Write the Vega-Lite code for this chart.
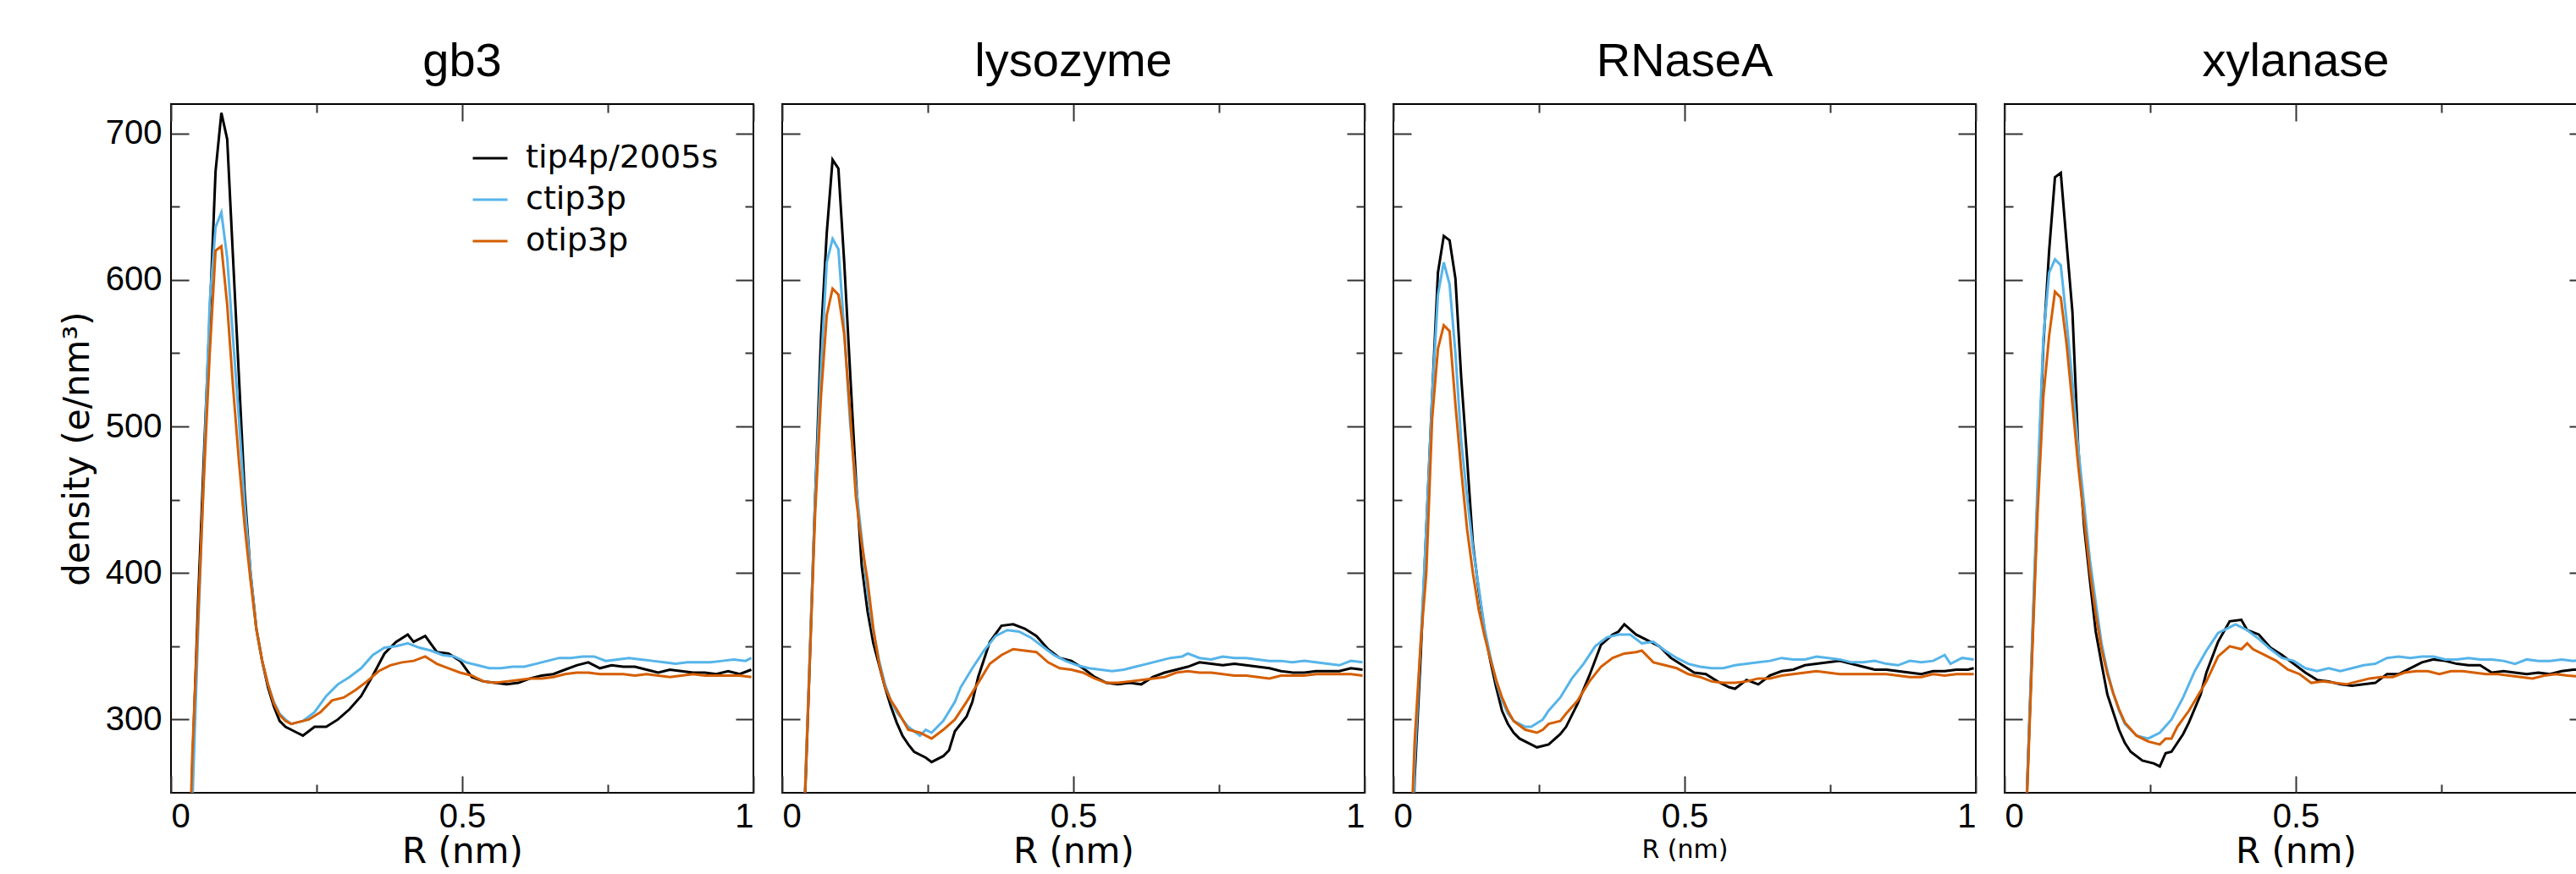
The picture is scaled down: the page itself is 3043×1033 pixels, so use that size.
{
"$schema": "https://vega.github.io/schema/vega-lite/v6.json",
"background": "white",
"padding": {"left": 69, "top": 44, "right": 0, "bottom": 0},
"bounds": "flush",
"spacing": 34,
"config": {
  "view": {"stroke": "black", "strokeWidth": 2},
  "axis": {"grid": false, "domain": false, "tickColor": "#333333", "tickWidth": 2, "labelFont": "Liberation Sans", "labelFontSize": 40, "labelColor": "black", "titleColor": "black", "titleFontWeight": "normal"},
  "title": {"font": "Liberation Sans", "fontSize": 56, "fontWeight": "normal", "color": "black", "anchor": "middle", "offset": 20},
  "line": {"strokeWidth": 3, "clip": true}
},
"datasets": {
"gb3": [
{"s":"tip4p/2005s","R":0.0265,"d":120},{"s":"tip4p/2005s","R":0.0365,"d":265},{"s":"tip4p/2005s","R":0.0465,"d":380},{"s":"tip4p/2005s","R":0.0565,"d":480},{"s":"tip4p/2005s","R":0.0665,"d":575},{"s":"tip4p/2005s","R":0.0765,"d":674},{"s":"tip4p/2005s","R":0.0865,"d":714},{"s":"tip4p/2005s","R":0.0965,"d":696},{"s":"tip4p/2005s","R":0.1065,"d":615},{"s":"tip4p/2005s","R":0.1165,"d":535},{"s":"tip4p/2005s","R":0.1265,"d":455},{"s":"tip4p/2005s","R":0.1365,"d":400},{"s":"tip4p/2005s","R":0.1465,"d":362},{"s":"tip4p/2005s","R":0.1565,"d":340},{"s":"tip4p/2005s","R":0.1665,"d":322},{"s":"tip4p/2005s","R":0.1765,"d":309},{"s":"tip4p/2005s","R":0.1865,"d":299},{"s":"tip4p/2005s","R":0.1965,"d":295},{"s":"tip4p/2005s","R":0.2065,"d":293},{"s":"tip4p/2005s","R":0.2165,"d":291},{"s":"tip4p/2005s","R":0.2265,"d":289},{"s":"tip4p/2005s","R":0.2365,"d":292},{"s":"tip4p/2005s","R":0.2465,"d":295},{"s":"tip4p/2005s","R":0.2665,"d":295},{"s":"tip4p/2005s","R":0.2865,"d":300},{"s":"tip4p/2005s","R":0.3065,"d":307},{"s":"tip4p/2005s","R":0.3265,"d":316},{"s":"tip4p/2005s","R":0.3465,"d":330},{"s":"tip4p/2005s","R":0.3665,"d":345},{"s":"tip4p/2005s","R":0.3865,"d":353},{"s":"tip4p/2005s","R":0.4065,"d":358},{"s":"tip4p/2005s","R":0.4165,"d":353},{"s":"tip4p/2005s","R":0.4365,"d":357},{"s":"tip4p/2005s","R":0.4565,"d":346},{"s":"tip4p/2005s","R":0.4765,"d":345},{"s":"tip4p/2005s","R":0.4965,"d":340},{"s":"tip4p/2005s","R":0.5165,"d":329},{"s":"tip4p/2005s","R":0.5365,"d":326},{"s":"tip4p/2005s","R":0.5565,"d":325},{"s":"tip4p/2005s","R":0.5765,"d":324},{"s":"tip4p/2005s","R":0.5965,"d":325},{"s":"tip4p/2005s","R":0.6165,"d":328},{"s":"tip4p/2005s","R":0.6365,"d":330},{"s":"tip4p/2005s","R":0.6565,"d":331},{"s":"tip4p/2005s","R":0.6765,"d":334},{"s":"tip4p/2005s","R":0.6965,"d":337},{"s":"tip4p/2005s","R":0.7165,"d":339},{"s":"tip4p/2005s","R":0.7365,"d":335},{"s":"tip4p/2005s","R":0.7565,"d":337},{"s":"tip4p/2005s","R":0.7765,"d":336},{"s":"tip4p/2005s","R":0.7965,"d":336},{"s":"tip4p/2005s","R":0.8165,"d":334},{"s":"tip4p/2005s","R":0.8365,"d":332},{"s":"tip4p/2005s","R":0.8565,"d":334},{"s":"tip4p/2005s","R":0.8765,"d":333},{"s":"tip4p/2005s","R":0.8965,"d":332},{"s":"tip4p/2005s","R":0.9165,"d":332},{"s":"tip4p/2005s","R":0.9365,"d":331},{"s":"tip4p/2005s","R":0.9565,"d":333},{"s":"tip4p/2005s","R":0.9765,"d":331},{"s":"tip4p/2005s","R":0.9965,"d":334},
{"s":"ctip3p","R":0.0265,"d":100},{"s":"ctip3p","R":0.0365,"d":240},{"s":"ctip3p","R":0.0465,"d":360},{"s":"ctip3p","R":0.0565,"d":470},{"s":"ctip3p","R":0.0665,"d":585},{"s":"ctip3p","R":0.0765,"d":636},{"s":"ctip3p","R":0.0865,"d":646},{"s":"ctip3p","R":0.0965,"d":615},{"s":"ctip3p","R":0.1065,"d":560},{"s":"ctip3p","R":0.1165,"d":506},{"s":"ctip3p","R":0.1265,"d":447},{"s":"ctip3p","R":0.1365,"d":400},{"s":"ctip3p","R":0.1465,"d":362},{"s":"ctip3p","R":0.1565,"d":340},{"s":"ctip3p","R":0.1665,"d":324},{"s":"ctip3p","R":0.1765,"d":312},{"s":"ctip3p","R":0.1865,"d":304},{"s":"ctip3p","R":0.1965,"d":300},{"s":"ctip3p","R":0.2065,"d":297},{"s":"ctip3p","R":0.2165,"d":298},{"s":"ctip3p","R":0.2265,"d":299},{"s":"ctip3p","R":0.2465,"d":305},{"s":"ctip3p","R":0.2665,"d":316},{"s":"ctip3p","R":0.2865,"d":324},{"s":"ctip3p","R":0.3065,"d":329},{"s":"ctip3p","R":0.3265,"d":335},{"s":"ctip3p","R":0.3465,"d":344},{"s":"ctip3p","R":0.3665,"d":349},{"s":"ctip3p","R":0.3865,"d":350},{"s":"ctip3p","R":0.4065,"d":352},{"s":"ctip3p","R":0.4265,"d":349},{"s":"ctip3p","R":0.4465,"d":347},{"s":"ctip3p","R":0.4665,"d":344},{"s":"ctip3p","R":0.4865,"d":343},{"s":"ctip3p","R":0.5065,"d":339},{"s":"ctip3p","R":0.5265,"d":337},{"s":"ctip3p","R":0.5465,"d":335},{"s":"ctip3p","R":0.5665,"d":335},{"s":"ctip3p","R":0.5865,"d":336},{"s":"ctip3p","R":0.6065,"d":336},{"s":"ctip3p","R":0.6265,"d":338},{"s":"ctip3p","R":0.6465,"d":340},{"s":"ctip3p","R":0.6665,"d":342},{"s":"ctip3p","R":0.6865,"d":342},{"s":"ctip3p","R":0.7065,"d":343},{"s":"ctip3p","R":0.7265,"d":343},{"s":"ctip3p","R":0.7465,"d":340},{"s":"ctip3p","R":0.7665,"d":341},{"s":"ctip3p","R":0.7865,"d":342},{"s":"ctip3p","R":0.8065,"d":341},{"s":"ctip3p","R":0.8265,"d":340},{"s":"ctip3p","R":0.8465,"d":339},{"s":"ctip3p","R":0.8665,"d":338},{"s":"ctip3p","R":0.8865,"d":339},{"s":"ctip3p","R":0.9065,"d":339},{"s":"ctip3p","R":0.9265,"d":339},{"s":"ctip3p","R":0.9465,"d":340},{"s":"ctip3p","R":0.9665,"d":341},{"s":"ctip3p","R":0.9865,"d":340},{"s":"ctip3p","R":0.9965,"d":342},
{"s":"otip3p","R":0.0265,"d":130},{"s":"otip3p","R":0.0365,"d":275},{"s":"otip3p","R":0.0465,"d":370},{"s":"otip3p","R":0.0565,"d":465},{"s":"otip3p","R":0.0665,"d":550},{"s":"otip3p","R":0.0765,"d":620},{"s":"otip3p","R":0.0865,"d":623},{"s":"otip3p","R":0.0965,"d":583},{"s":"otip3p","R":0.1065,"d":527},{"s":"otip3p","R":0.1165,"d":477},{"s":"otip3p","R":0.1265,"d":432},{"s":"otip3p","R":0.1365,"d":395},{"s":"otip3p","R":0.1465,"d":362},{"s":"otip3p","R":0.1565,"d":340},{"s":"otip3p","R":0.1665,"d":324},{"s":"otip3p","R":0.1765,"d":311},{"s":"otip3p","R":0.1865,"d":303},{"s":"otip3p","R":0.1965,"d":299},{"s":"otip3p","R":0.2065,"d":297},{"s":"otip3p","R":0.2165,"d":298},{"s":"otip3p","R":0.2365,"d":300},{"s":"otip3p","R":0.2565,"d":305},{"s":"otip3p","R":0.2765,"d":313},{"s":"otip3p","R":0.2965,"d":315},{"s":"otip3p","R":0.3165,"d":320},{"s":"otip3p","R":0.3365,"d":326},{"s":"otip3p","R":0.3565,"d":333},{"s":"otip3p","R":0.3765,"d":337},{"s":"otip3p","R":0.3965,"d":339},{"s":"otip3p","R":0.4165,"d":340},{"s":"otip3p","R":0.4365,"d":343},{"s":"otip3p","R":0.4565,"d":338},{"s":"otip3p","R":0.4765,"d":335},{"s":"otip3p","R":0.4965,"d":332},{"s":"otip3p","R":0.5165,"d":330},{"s":"otip3p","R":0.5365,"d":326},{"s":"otip3p","R":0.5565,"d":325},{"s":"otip3p","R":0.5765,"d":326},{"s":"otip3p","R":0.5965,"d":327},{"s":"otip3p","R":0.6165,"d":328},{"s":"otip3p","R":0.6365,"d":328},{"s":"otip3p","R":0.6565,"d":329},{"s":"otip3p","R":0.6765,"d":331},{"s":"otip3p","R":0.6965,"d":332},{"s":"otip3p","R":0.7165,"d":332},{"s":"otip3p","R":0.7365,"d":331},{"s":"otip3p","R":0.7565,"d":331},{"s":"otip3p","R":0.7765,"d":331},{"s":"otip3p","R":0.7965,"d":330},{"s":"otip3p","R":0.8165,"d":331},{"s":"otip3p","R":0.8365,"d":330},{"s":"otip3p","R":0.8565,"d":329},{"s":"otip3p","R":0.8765,"d":330},{"s":"otip3p","R":0.8965,"d":331},{"s":"otip3p","R":0.9165,"d":330},{"s":"otip3p","R":0.9365,"d":330},{"s":"otip3p","R":0.9565,"d":330},{"s":"otip3p","R":0.9765,"d":330},{"s":"otip3p","R":0.9965,"d":329}
],
"lys": [
{"s":"tip4p/2005s","R":0.0265,"d":100},{"s":"tip4p/2005s","R":0.0365,"d":215},{"s":"tip4p/2005s","R":0.0465,"d":330},{"s":"tip4p/2005s","R":0.0565,"d":450},{"s":"tip4p/2005s","R":0.0665,"d":560},{"s":"tip4p/2005s","R":0.0765,"d":632},{"s":"tip4p/2005s","R":0.0865,"d":682},{"s":"tip4p/2005s","R":0.0965,"d":676},{"s":"tip4p/2005s","R":0.1065,"d":612},{"s":"tip4p/2005s","R":0.1165,"d":538},{"s":"tip4p/2005s","R":0.1265,"d":465},{"s":"tip4p/2005s","R":0.1365,"d":405},{"s":"tip4p/2005s","R":0.1465,"d":374},{"s":"tip4p/2005s","R":0.1565,"d":352},{"s":"tip4p/2005s","R":0.1665,"d":337},{"s":"tip4p/2005s","R":0.1765,"d":322},{"s":"tip4p/2005s","R":0.1865,"d":309},{"s":"tip4p/2005s","R":0.1965,"d":298},{"s":"tip4p/2005s","R":0.2065,"d":289},{"s":"tip4p/2005s","R":0.2165,"d":283},{"s":"tip4p/2005s","R":0.2265,"d":278},{"s":"tip4p/2005s","R":0.2465,"d":274},{"s":"tip4p/2005s","R":0.2565,"d":271},{"s":"tip4p/2005s","R":0.2765,"d":275},{"s":"tip4p/2005s","R":0.2865,"d":279},{"s":"tip4p/2005s","R":0.2965,"d":292},{"s":"tip4p/2005s","R":0.3165,"d":302},{"s":"tip4p/2005s","R":0.3265,"d":312},{"s":"tip4p/2005s","R":0.3365,"d":329},{"s":"tip4p/2005s","R":0.3565,"d":353},{"s":"tip4p/2005s","R":0.3765,"d":364},{"s":"tip4p/2005s","R":0.3965,"d":365},{"s":"tip4p/2005s","R":0.4165,"d":362},{"s":"tip4p/2005s","R":0.4365,"d":357},{"s":"tip4p/2005s","R":0.4565,"d":348},{"s":"tip4p/2005s","R":0.4765,"d":342},{"s":"tip4p/2005s","R":0.4965,"d":340},{"s":"tip4p/2005s","R":0.5165,"d":335},{"s":"tip4p/2005s","R":0.5365,"d":329},{"s":"tip4p/2005s","R":0.5565,"d":325},{"s":"tip4p/2005s","R":0.5765,"d":324},{"s":"tip4p/2005s","R":0.5965,"d":325},{"s":"tip4p/2005s","R":0.6165,"d":324},{"s":"tip4p/2005s","R":0.6365,"d":329},{"s":"tip4p/2005s","R":0.6565,"d":332},{"s":"tip4p/2005s","R":0.6765,"d":334},{"s":"tip4p/2005s","R":0.6965,"d":336},{"s":"tip4p/2005s","R":0.7165,"d":339},{"s":"tip4p/2005s","R":0.7365,"d":338},{"s":"tip4p/2005s","R":0.7565,"d":337},{"s":"tip4p/2005s","R":0.7765,"d":338},{"s":"tip4p/2005s","R":0.7965,"d":337},{"s":"tip4p/2005s","R":0.8165,"d":336},{"s":"tip4p/2005s","R":0.8365,"d":335},{"s":"tip4p/2005s","R":0.8565,"d":333},{"s":"tip4p/2005s","R":0.8765,"d":332},{"s":"tip4p/2005s","R":0.8965,"d":332},{"s":"tip4p/2005s","R":0.9165,"d":333},{"s":"tip4p/2005s","R":0.9365,"d":333},{"s":"tip4p/2005s","R":0.9565,"d":333},{"s":"tip4p/2005s","R":0.9765,"d":335},{"s":"tip4p/2005s","R":0.9965,"d":334},
{"s":"ctip3p","R":0.0265,"d":105},{"s":"ctip3p","R":0.0365,"d":220},{"s":"ctip3p","R":0.0465,"d":335},{"s":"ctip3p","R":0.0565,"d":450},{"s":"ctip3p","R":0.0665,"d":540},{"s":"ctip3p","R":0.0765,"d":612},{"s":"ctip3p","R":0.0865,"d":628},{"s":"ctip3p","R":0.0965,"d":621},{"s":"ctip3p","R":0.1065,"d":566},{"s":"ctip3p","R":0.1165,"d":503},{"s":"ctip3p","R":0.1265,"d":460},{"s":"ctip3p","R":0.1365,"d":424},{"s":"ctip3p","R":0.1465,"d":386},{"s":"ctip3p","R":0.1565,"d":360},{"s":"ctip3p","R":0.1665,"d":340},{"s":"ctip3p","R":0.1765,"d":324},{"s":"ctip3p","R":0.1865,"d":313},{"s":"ctip3p","R":0.1965,"d":305},{"s":"ctip3p","R":0.2065,"d":300},{"s":"ctip3p","R":0.2165,"d":295},{"s":"ctip3p","R":0.2365,"d":289},{"s":"ctip3p","R":0.2465,"d":293},{"s":"ctip3p","R":0.2565,"d":291},{"s":"ctip3p","R":0.2765,"d":299},{"s":"ctip3p","R":0.2965,"d":312},{"s":"ctip3p","R":0.3065,"d":322},{"s":"ctip3p","R":0.3265,"d":335},{"s":"ctip3p","R":0.3465,"d":347},{"s":"ctip3p","R":0.3665,"d":357},{"s":"ctip3p","R":0.3865,"d":361},{"s":"ctip3p","R":0.4065,"d":360},{"s":"ctip3p","R":0.4265,"d":356},{"s":"ctip3p","R":0.4465,"d":350},{"s":"ctip3p","R":0.4665,"d":344},{"s":"ctip3p","R":0.4865,"d":340},{"s":"ctip3p","R":0.5065,"d":337},{"s":"ctip3p","R":0.5265,"d":335},{"s":"ctip3p","R":0.5465,"d":334},{"s":"ctip3p","R":0.5665,"d":333},{"s":"ctip3p","R":0.5865,"d":334},{"s":"ctip3p","R":0.6065,"d":336},{"s":"ctip3p","R":0.6265,"d":338},{"s":"ctip3p","R":0.6465,"d":340},{"s":"ctip3p","R":0.6665,"d":342},{"s":"ctip3p","R":0.6865,"d":343},{"s":"ctip3p","R":0.6965,"d":345},{"s":"ctip3p","R":0.7165,"d":342},{"s":"ctip3p","R":0.7365,"d":341},{"s":"ctip3p","R":0.7565,"d":343},{"s":"ctip3p","R":0.7765,"d":342},{"s":"ctip3p","R":0.7965,"d":342},{"s":"ctip3p","R":0.8165,"d":341},{"s":"ctip3p","R":0.8365,"d":340},{"s":"ctip3p","R":0.8565,"d":340},{"s":"ctip3p","R":0.8765,"d":339},{"s":"ctip3p","R":0.8965,"d":340},{"s":"ctip3p","R":0.9165,"d":339},{"s":"ctip3p","R":0.9365,"d":338},{"s":"ctip3p","R":0.9565,"d":337},{"s":"ctip3p","R":0.9765,"d":340},{"s":"ctip3p","R":0.9965,"d":339},
{"s":"otip3p","R":0.0265,"d":110},{"s":"otip3p","R":0.0365,"d":220},{"s":"otip3p","R":0.0465,"d":330},{"s":"otip3p","R":0.0565,"d":440},{"s":"otip3p","R":0.0665,"d":520},{"s":"otip3p","R":0.0765,"d":576},{"s":"otip3p","R":0.0865,"d":594},{"s":"otip3p","R":0.0965,"d":590},{"s":"otip3p","R":0.1065,"d":563},{"s":"otip3p","R":0.1165,"d":510},{"s":"otip3p","R":0.1265,"d":452},{"s":"otip3p","R":0.1365,"d":420},{"s":"otip3p","R":0.1465,"d":395},{"s":"otip3p","R":0.1565,"d":362},{"s":"otip3p","R":0.1665,"d":338},{"s":"otip3p","R":0.1765,"d":322},{"s":"otip3p","R":0.1865,"d":313},{"s":"otip3p","R":0.1965,"d":307},{"s":"otip3p","R":0.2165,"d":293},{"s":"otip3p","R":0.2365,"d":291},{"s":"otip3p","R":0.2565,"d":287},{"s":"otip3p","R":0.2765,"d":293},{"s":"otip3p","R":0.2965,"d":300},{"s":"otip3p","R":0.3165,"d":312},{"s":"otip3p","R":0.3365,"d":325},{"s":"otip3p","R":0.3565,"d":338},{"s":"otip3p","R":0.3765,"d":344},{"s":"otip3p","R":0.3965,"d":348},{"s":"otip3p","R":0.4165,"d":347},{"s":"otip3p","R":0.4365,"d":346},{"s":"otip3p","R":0.4565,"d":339},{"s":"otip3p","R":0.4765,"d":335},{"s":"otip3p","R":0.4965,"d":334},{"s":"otip3p","R":0.5165,"d":332},{"s":"otip3p","R":0.5365,"d":328},{"s":"otip3p","R":0.5565,"d":325},{"s":"otip3p","R":0.5765,"d":325},{"s":"otip3p","R":0.5965,"d":326},{"s":"otip3p","R":0.6165,"d":327},{"s":"otip3p","R":0.6365,"d":328},{"s":"otip3p","R":0.6565,"d":329},{"s":"otip3p","R":0.6765,"d":332},{"s":"otip3p","R":0.6965,"d":333},{"s":"otip3p","R":0.7165,"d":332},{"s":"otip3p","R":0.7365,"d":332},{"s":"otip3p","R":0.7565,"d":331},{"s":"otip3p","R":0.7765,"d":330},{"s":"otip3p","R":0.7965,"d":330},{"s":"otip3p","R":0.8165,"d":329},{"s":"otip3p","R":0.8365,"d":328},{"s":"otip3p","R":0.8565,"d":330},{"s":"otip3p","R":0.8765,"d":330},{"s":"otip3p","R":0.8965,"d":330},{"s":"otip3p","R":0.9165,"d":331},{"s":"otip3p","R":0.9365,"d":331},{"s":"otip3p","R":0.9565,"d":331},{"s":"otip3p","R":0.9765,"d":331},{"s":"otip3p","R":0.9965,"d":330}
],
"rna": [
{"s":"tip4p/2005s","R":0.0265,"d":120},{"s":"tip4p/2005s","R":0.0365,"d":260},{"s":"tip4p/2005s","R":0.0465,"d":340},{"s":"tip4p/2005s","R":0.0565,"d":430},{"s":"tip4p/2005s","R":0.0665,"d":520},{"s":"tip4p/2005s","R":0.0765,"d":605},{"s":"tip4p/2005s","R":0.0865,"d":630},{"s":"tip4p/2005s","R":0.0965,"d":627},{"s":"tip4p/2005s","R":0.1065,"d":601},{"s":"tip4p/2005s","R":0.1165,"d":533},{"s":"tip4p/2005s","R":0.1265,"d":478},{"s":"tip4p/2005s","R":0.1365,"d":420},{"s":"tip4p/2005s","R":0.1465,"d":388},{"s":"tip4p/2005s","R":0.1565,"d":361},{"s":"tip4p/2005s","R":0.1665,"d":340},{"s":"tip4p/2005s","R":0.1765,"d":322},{"s":"tip4p/2005s","R":0.1865,"d":306},{"s":"tip4p/2005s","R":0.1965,"d":297},{"s":"tip4p/2005s","R":0.2065,"d":291},{"s":"tip4p/2005s","R":0.2165,"d":287},{"s":"tip4p/2005s","R":0.2365,"d":283},{"s":"tip4p/2005s","R":0.2465,"d":281},{"s":"tip4p/2005s","R":0.2665,"d":283},{"s":"tip4p/2005s","R":0.2865,"d":290},{"s":"tip4p/2005s","R":0.2965,"d":295},{"s":"tip4p/2005s","R":0.3165,"d":311},{"s":"tip4p/2005s","R":0.3365,"d":330},{"s":"tip4p/2005s","R":0.3565,"d":351},{"s":"tip4p/2005s","R":0.3765,"d":358},{"s":"tip4p/2005s","R":0.3865,"d":360},{"s":"tip4p/2005s","R":0.3965,"d":365},{"s":"tip4p/2005s","R":0.4165,"d":358},{"s":"tip4p/2005s","R":0.4365,"d":354},{"s":"tip4p/2005s","R":0.4565,"d":350},{"s":"tip4p/2005s","R":0.4765,"d":342},{"s":"tip4p/2005s","R":0.4965,"d":337},{"s":"tip4p/2005s","R":0.5165,"d":332},{"s":"tip4p/2005s","R":0.5365,"d":331},{"s":"tip4p/2005s","R":0.5565,"d":326},{"s":"tip4p/2005s","R":0.5765,"d":322},{"s":"tip4p/2005s","R":0.5865,"d":321},{"s":"tip4p/2005s","R":0.6065,"d":327},{"s":"tip4p/2005s","R":0.6265,"d":324},{"s":"tip4p/2005s","R":0.6465,"d":330},{"s":"tip4p/2005s","R":0.6665,"d":333},{"s":"tip4p/2005s","R":0.6865,"d":334},{"s":"tip4p/2005s","R":0.7065,"d":337},{"s":"tip4p/2005s","R":0.7265,"d":338},{"s":"tip4p/2005s","R":0.7465,"d":339},{"s":"tip4p/2005s","R":0.7665,"d":340},{"s":"tip4p/2005s","R":0.7865,"d":338},{"s":"tip4p/2005s","R":0.8065,"d":336},{"s":"tip4p/2005s","R":0.8265,"d":334},{"s":"tip4p/2005s","R":0.8465,"d":334},{"s":"tip4p/2005s","R":0.8665,"d":333},{"s":"tip4p/2005s","R":0.8865,"d":332},{"s":"tip4p/2005s","R":0.9065,"d":331},{"s":"tip4p/2005s","R":0.9265,"d":333},{"s":"tip4p/2005s","R":0.9465,"d":333},{"s":"tip4p/2005s","R":0.9665,"d":334},{"s":"tip4p/2005s","R":0.9865,"d":334},{"s":"tip4p/2005s","R":0.9965,"d":335},
{"s":"ctip3p","R":0.0265,"d":110},{"s":"ctip3p","R":0.0365,"d":270},{"s":"ctip3p","R":0.0465,"d":350},{"s":"ctip3p","R":0.0565,"d":430},{"s":"ctip3p","R":0.0665,"d":520},{"s":"ctip3p","R":0.0765,"d":590},{"s":"ctip3p","R":0.0865,"d":612},{"s":"ctip3p","R":0.0965,"d":597},{"s":"ctip3p","R":0.1065,"d":550},{"s":"ctip3p","R":0.1165,"d":490},{"s":"ctip3p","R":0.1265,"d":452},{"s":"ctip3p","R":0.1365,"d":417},{"s":"ctip3p","R":0.1465,"d":390},{"s":"ctip3p","R":0.1565,"d":362},{"s":"ctip3p","R":0.1665,"d":343},{"s":"ctip3p","R":0.1765,"d":326},{"s":"ctip3p","R":0.1865,"d":313},{"s":"ctip3p","R":0.1965,"d":304},{"s":"ctip3p","R":0.2065,"d":299},{"s":"ctip3p","R":0.2265,"d":295},{"s":"ctip3p","R":0.2365,"d":295},{"s":"ctip3p","R":0.2565,"d":300},{"s":"ctip3p","R":0.2665,"d":306},{"s":"ctip3p","R":0.2865,"d":315},{"s":"ctip3p","R":0.3065,"d":328},{"s":"ctip3p","R":0.3265,"d":338},{"s":"ctip3p","R":0.3465,"d":350},{"s":"ctip3p","R":0.3665,"d":356},{"s":"ctip3p","R":0.3865,"d":358},{"s":"ctip3p","R":0.4065,"d":358},{"s":"ctip3p","R":0.4265,"d":352},{"s":"ctip3p","R":0.4465,"d":353},{"s":"ctip3p","R":0.4665,"d":347},{"s":"ctip3p","R":0.4865,"d":342},{"s":"ctip3p","R":0.5065,"d":338},{"s":"ctip3p","R":0.5265,"d":336},{"s":"ctip3p","R":0.5465,"d":335},{"s":"ctip3p","R":0.5665,"d":335},{"s":"ctip3p","R":0.5865,"d":337},{"s":"ctip3p","R":0.6065,"d":338},{"s":"ctip3p","R":0.6265,"d":339},{"s":"ctip3p","R":0.6465,"d":340},{"s":"ctip3p","R":0.6665,"d":342},{"s":"ctip3p","R":0.6865,"d":341},{"s":"ctip3p","R":0.7065,"d":341},{"s":"ctip3p","R":0.7265,"d":343},{"s":"ctip3p","R":0.7465,"d":342},{"s":"ctip3p","R":0.7665,"d":341},{"s":"ctip3p","R":0.7865,"d":339},{"s":"ctip3p","R":0.8065,"d":339},{"s":"ctip3p","R":0.8265,"d":340},{"s":"ctip3p","R":0.8465,"d":338},{"s":"ctip3p","R":0.8665,"d":337},{"s":"ctip3p","R":0.8865,"d":340},{"s":"ctip3p","R":0.9065,"d":339},{"s":"ctip3p","R":0.9265,"d":340},{"s":"ctip3p","R":0.9465,"d":344},{"s":"ctip3p","R":0.9565,"d":338},{"s":"ctip3p","R":0.9765,"d":342},{"s":"ctip3p","R":0.9965,"d":341},
{"s":"otip3p","R":0.0265,"d":180},{"s":"otip3p","R":0.0365,"d":285},{"s":"otip3p","R":0.0465,"d":350},{"s":"otip3p","R":0.0565,"d":400},{"s":"otip3p","R":0.0665,"d":505},{"s":"otip3p","R":0.0765,"d":553},{"s":"otip3p","R":0.0865,"d":569},{"s":"otip3p","R":0.0965,"d":565},{"s":"otip3p","R":0.1065,"d":515},{"s":"otip3p","R":0.1165,"d":470},{"s":"otip3p","R":0.1265,"d":430},{"s":"otip3p","R":0.1365,"d":400},{"s":"otip3p","R":0.1465,"d":375},{"s":"otip3p","R":0.1565,"d":357},{"s":"otip3p","R":0.1665,"d":341},{"s":"otip3p","R":0.1765,"d":327},{"s":"otip3p","R":0.1865,"d":315},{"s":"otip3p","R":0.1965,"d":306},{"s":"otip3p","R":0.2065,"d":299},{"s":"otip3p","R":0.2265,"d":293},{"s":"otip3p","R":0.2465,"d":291},{"s":"otip3p","R":0.2565,"d":293},{"s":"otip3p","R":0.2665,"d":297},{"s":"otip3p","R":0.2865,"d":299},{"s":"otip3p","R":0.2965,"d":304},{"s":"otip3p","R":0.3165,"d":313},{"s":"otip3p","R":0.3365,"d":326},{"s":"otip3p","R":0.3565,"d":336},{"s":"otip3p","R":0.3765,"d":342},{"s":"otip3p","R":0.3965,"d":345},{"s":"otip3p","R":0.4165,"d":346},{"s":"otip3p","R":0.4265,"d":347},{"s":"otip3p","R":0.4465,"d":339},{"s":"otip3p","R":0.4665,"d":337},{"s":"otip3p","R":0.4865,"d":335},{"s":"otip3p","R":0.5065,"d":331},{"s":"otip3p","R":0.5265,"d":329},{"s":"otip3p","R":0.5465,"d":326},{"s":"otip3p","R":0.5665,"d":325},{"s":"otip3p","R":0.5865,"d":325},{"s":"otip3p","R":0.6065,"d":326},{"s":"otip3p","R":0.6265,"d":328},{"s":"otip3p","R":0.6465,"d":328},{"s":"otip3p","R":0.6665,"d":330},{"s":"otip3p","R":0.6865,"d":331},{"s":"otip3p","R":0.7065,"d":332},{"s":"otip3p","R":0.7265,"d":333},{"s":"otip3p","R":0.7465,"d":332},{"s":"otip3p","R":0.7665,"d":331},{"s":"otip3p","R":0.7865,"d":331},{"s":"otip3p","R":0.8065,"d":331},{"s":"otip3p","R":0.8265,"d":331},{"s":"otip3p","R":0.8465,"d":331},{"s":"otip3p","R":0.8665,"d":330},{"s":"otip3p","R":0.8865,"d":329},{"s":"otip3p","R":0.9065,"d":329},{"s":"otip3p","R":0.9265,"d":331},{"s":"otip3p","R":0.9465,"d":330},{"s":"otip3p","R":0.9665,"d":331},{"s":"otip3p","R":0.9965,"d":331}
],
"xyl": [
{"s":"tip4p/2005s","R":0.0265,"d":100},{"s":"tip4p/2005s","R":0.0365,"d":230},{"s":"tip4p/2005s","R":0.0465,"d":340},{"s":"tip4p/2005s","R":0.0565,"d":450},{"s":"tip4p/2005s","R":0.0665,"d":555},{"s":"tip4p/2005s","R":0.0765,"d":620},{"s":"tip4p/2005s","R":0.0865,"d":670},{"s":"tip4p/2005s","R":0.0965,"d":673},{"s":"tip4p/2005s","R":0.1065,"d":625},{"s":"tip4p/2005s","R":0.1165,"d":578},{"s":"tip4p/2005s","R":0.1265,"d":485},{"s":"tip4p/2005s","R":0.1365,"d":432},{"s":"tip4p/2005s","R":0.1465,"d":395},{"s":"tip4p/2005s","R":0.1565,"d":360},{"s":"tip4p/2005s","R":0.1665,"d":338},{"s":"tip4p/2005s","R":0.1765,"d":317},{"s":"tip4p/2005s","R":0.1865,"d":305},{"s":"tip4p/2005s","R":0.1965,"d":293},{"s":"tip4p/2005s","R":0.2065,"d":284},{"s":"tip4p/2005s","R":0.2165,"d":278},{"s":"tip4p/2005s","R":0.2365,"d":272},{"s":"tip4p/2005s","R":0.2565,"d":270},{"s":"tip4p/2005s","R":0.2665,"d":268},{"s":"tip4p/2005s","R":0.2765,"d":277},{"s":"tip4p/2005s","R":0.2865,"d":278},{"s":"tip4p/2005s","R":0.3065,"d":290},{"s":"tip4p/2005s","R":0.3165,"d":298},{"s":"tip4p/2005s","R":0.3365,"d":317},{"s":"tip4p/2005s","R":0.3465,"d":332},{"s":"tip4p/2005s","R":0.3665,"d":353},{"s":"tip4p/2005s","R":0.3865,"d":367},{"s":"tip4p/2005s","R":0.4065,"d":368},{"s":"tip4p/2005s","R":0.4165,"d":361},{"s":"tip4p/2005s","R":0.4365,"d":358},{"s":"tip4p/2005s","R":0.4565,"d":349},{"s":"tip4p/2005s","R":0.4765,"d":344},{"s":"tip4p/2005s","R":0.4965,"d":338},{"s":"tip4p/2005s","R":0.5165,"d":332},{"s":"tip4p/2005s","R":0.5365,"d":327},{"s":"tip4p/2005s","R":0.5565,"d":326},{"s":"tip4p/2005s","R":0.5765,"d":324},{"s":"tip4p/2005s","R":0.5965,"d":323},{"s":"tip4p/2005s","R":0.6165,"d":324},{"s":"tip4p/2005s","R":0.6365,"d":325},{"s":"tip4p/2005s","R":0.6565,"d":331},{"s":"tip4p/2005s","R":0.6765,"d":331},{"s":"tip4p/2005s","R":0.6965,"d":335},{"s":"tip4p/2005s","R":0.7165,"d":339},{"s":"tip4p/2005s","R":0.7365,"d":341},{"s":"tip4p/2005s","R":0.7565,"d":340},{"s":"tip4p/2005s","R":0.7765,"d":338},{"s":"tip4p/2005s","R":0.7965,"d":337},{"s":"tip4p/2005s","R":0.8165,"d":337},{"s":"tip4p/2005s","R":0.8365,"d":332},{"s":"tip4p/2005s","R":0.8565,"d":333},{"s":"tip4p/2005s","R":0.8765,"d":332},{"s":"tip4p/2005s","R":0.8965,"d":331},{"s":"tip4p/2005s","R":0.9165,"d":332},{"s":"tip4p/2005s","R":0.9365,"d":331},{"s":"tip4p/2005s","R":0.9565,"d":333},{"s":"tip4p/2005s","R":0.9765,"d":334},{"s":"tip4p/2005s","R":0.9965,"d":334},
{"s":"ctip3p","R":0.0265,"d":100},{"s":"ctip3p","R":0.0365,"d":230},{"s":"ctip3p","R":0.0465,"d":345},{"s":"ctip3p","R":0.0565,"d":460},{"s":"ctip3p","R":0.0665,"d":560},{"s":"ctip3p","R":0.0765,"d":605},{"s":"ctip3p","R":0.0865,"d":614},{"s":"ctip3p","R":0.0965,"d":610},{"s":"ctip3p","R":0.1065,"d":572},{"s":"ctip3p","R":0.1165,"d":530},{"s":"ctip3p","R":0.1265,"d":485},{"s":"ctip3p","R":0.1365,"d":447},{"s":"ctip3p","R":0.1465,"d":409},{"s":"ctip3p","R":0.1565,"d":380},{"s":"ctip3p","R":0.1665,"d":352},{"s":"ctip3p","R":0.1765,"d":333},{"s":"ctip3p","R":0.1865,"d":318},{"s":"ctip3p","R":0.1965,"d":306},{"s":"ctip3p","R":0.2065,"d":297},{"s":"ctip3p","R":0.2265,"d":289},{"s":"ctip3p","R":0.2465,"d":287},{"s":"ctip3p","R":0.2665,"d":291},{"s":"ctip3p","R":0.2865,"d":300},{"s":"ctip3p","R":0.3065,"d":315},{"s":"ctip3p","R":0.3265,"d":333},{"s":"ctip3p","R":0.3465,"d":347},{"s":"ctip3p","R":0.3665,"d":359},{"s":"ctip3p","R":0.3865,"d":363},{"s":"ctip3p","R":0.3965,"d":365},{"s":"ctip3p","R":0.4165,"d":361},{"s":"ctip3p","R":0.4365,"d":355},{"s":"ctip3p","R":0.4565,"d":348},{"s":"ctip3p","R":0.4765,"d":342},{"s":"ctip3p","R":0.4965,"d":340},{"s":"ctip3p","R":0.5165,"d":335},{"s":"ctip3p","R":0.5365,"d":333},{"s":"ctip3p","R":0.5565,"d":335},{"s":"ctip3p","R":0.5765,"d":333},{"s":"ctip3p","R":0.5965,"d":335},{"s":"ctip3p","R":0.6165,"d":337},{"s":"ctip3p","R":0.6365,"d":338},{"s":"ctip3p","R":0.6565,"d":342},{"s":"ctip3p","R":0.6765,"d":343},{"s":"ctip3p","R":0.6965,"d":342},{"s":"ctip3p","R":0.7165,"d":343},{"s":"ctip3p","R":0.7365,"d":343},{"s":"ctip3p","R":0.7565,"d":341},{"s":"ctip3p","R":0.7765,"d":341},{"s":"ctip3p","R":0.7965,"d":342},{"s":"ctip3p","R":0.8165,"d":341},{"s":"ctip3p","R":0.8365,"d":341},{"s":"ctip3p","R":0.8565,"d":340},{"s":"ctip3p","R":0.8765,"d":338},{"s":"ctip3p","R":0.8965,"d":341},{"s":"ctip3p","R":0.9165,"d":340},{"s":"ctip3p","R":0.9365,"d":340},{"s":"ctip3p","R":0.9565,"d":341},{"s":"ctip3p","R":0.9765,"d":340},{"s":"ctip3p","R":0.9965,"d":341},
{"s":"otip3p","R":0.0265,"d":100},{"s":"otip3p","R":0.0365,"d":225},{"s":"otip3p","R":0.0465,"d":335},{"s":"otip3p","R":0.0565,"d":440},{"s":"otip3p","R":0.0665,"d":520},{"s":"otip3p","R":0.0765,"d":562},{"s":"otip3p","R":0.0865,"d":592},{"s":"otip3p","R":0.0965,"d":588},{"s":"otip3p","R":0.1065,"d":556},{"s":"otip3p","R":0.1165,"d":515},{"s":"otip3p","R":0.1265,"d":473},{"s":"otip3p","R":0.1365,"d":437},{"s":"otip3p","R":0.1465,"d":401},{"s":"otip3p","R":0.1565,"d":372},{"s":"otip3p","R":0.1665,"d":348},{"s":"otip3p","R":0.1765,"d":331},{"s":"otip3p","R":0.1865,"d":318},{"s":"otip3p","R":0.1965,"d":307},{"s":"otip3p","R":0.2065,"d":298},{"s":"otip3p","R":0.2265,"d":289},{"s":"otip3p","R":0.2465,"d":285},{"s":"otip3p","R":0.2665,"d":283},{"s":"otip3p","R":0.2765,"d":287},{"s":"otip3p","R":0.2865,"d":287},{"s":"otip3p","R":0.2965,"d":295},{"s":"otip3p","R":0.3165,"d":306},{"s":"otip3p","R":0.3465,"d":326},{"s":"otip3p","R":0.3665,"d":343},{"s":"otip3p","R":0.3865,"d":350},{"s":"otip3p","R":0.4065,"d":348},{"s":"otip3p","R":0.4165,"d":352},{"s":"otip3p","R":0.4265,"d":348},{"s":"otip3p","R":0.4465,"d":344},{"s":"otip3p","R":0.4665,"d":340},{"s":"otip3p","R":0.4865,"d":334},{"s":"otip3p","R":0.5065,"d":331},{"s":"otip3p","R":0.5265,"d":325},{"s":"otip3p","R":0.5465,"d":326},{"s":"otip3p","R":0.5665,"d":325},{"s":"otip3p","R":0.5865,"d":324},{"s":"otip3p","R":0.6065,"d":326},{"s":"otip3p","R":0.6265,"d":328},{"s":"otip3p","R":0.6465,"d":329},{"s":"otip3p","R":0.6665,"d":329},{"s":"otip3p","R":0.6865,"d":332},{"s":"otip3p","R":0.7065,"d":333},{"s":"otip3p","R":0.7265,"d":333},{"s":"otip3p","R":0.7465,"d":331},{"s":"otip3p","R":0.7665,"d":333},{"s":"otip3p","R":0.7865,"d":333},{"s":"otip3p","R":0.8065,"d":332},{"s":"otip3p","R":0.8265,"d":331},{"s":"otip3p","R":0.8465,"d":331},{"s":"otip3p","R":0.8665,"d":330},{"s":"otip3p","R":0.8865,"d":329},{"s":"otip3p","R":0.9065,"d":328},{"s":"otip3p","R":0.9265,"d":330},{"s":"otip3p","R":0.9465,"d":331},{"s":"otip3p","R":0.9665,"d":330},{"s":"otip3p","R":0.9965,"d":329}
]
},
"hconcat": [
{
  "width": 688, "height": 814,
  "title": {"text": "gb3"},
  "data": {"name": "gb3"},
  "layer": [
    {"mark": {"type": "line", "strokeWidth": 3, "clip": true},
     "encoding": {
       "x": {"field": "R", "type": "quantitative", "scale": {"domain": [0, 1], "nice": false, "zero": false},
             "axis": {"orient": "bottom", "values": [0, 0.5, 1], "format": "~g", "tickSize": -20, "labelPadding": 28, "title": "R (nm)", "titleFont": "DejaVu Sans", "titleFontSize": 42, "titlePadding": 1}},
       "y": {"field": "d", "type": "quantitative", "scale": {"domain": [250, 720], "nice": false, "zero": false},
             "axis": {"orient": "left", "values": [300, 400, 500, 600, 700], "format": "d", "tickSize": -21, "labelPadding": 32, "title": "density (e/nm³)", "titleFont": "DejaVu Sans", "titleFontSize": 42, "titlePadding": 11}},
       "color": {"field": "s", "type": "nominal",
                 "scale": {"domain": ["tip4p/2005s", "ctip3p", "otip3p"], "range": ["#000000", "#56B4E9", "#D55E00"]},
                 "legend": {"orient": "none", "legendX": 355, "legendY": 42, "title": null, "symbolType": "stroke", "symbolSize": 1681, "symbolStrokeWidth": 3, "labelFont": "DejaVu Sans", "labelFontSize": 38, "labelColor": "black", "labelLimit": 600, "labelOffset": 20, "rowPadding": 8, "padding": 0}}
     }},
    {"mark": {"type": "line", "opacity": 0},
     "encoding": {
       "x": {"field": "R", "type": "quantitative", "scale": {"domain": [0, 1], "nice": false, "zero": false}, "axis": {"orient": "bottom", "values": [0.25, 0.75], "tickSize": -10, "labels": false, "title": null}},
       "y": {"field": "d", "type": "quantitative", "scale": {"domain": [250, 720], "nice": false, "zero": false}, "axis": {"orient": "left", "values": [350, 450, 550, 650], "tickSize": -10, "labels": false, "title": null}}
     }},
    {"mark": {"type": "line", "opacity": 0},
     "encoding": {
       "x": {"field": "R", "type": "quantitative", "scale": {"domain": [0, 1], "nice": false, "zero": false}, "axis": {"orient": "top", "values": [0, 0.5, 1], "tickSize": -20, "labels": false, "title": null}},
       "y": {"field": "d", "type": "quantitative", "scale": {"domain": [250, 720], "nice": false, "zero": false}, "axis": {"orient": "right", "values": [300, 400, 500, 600, 700], "tickSize": -21, "labels": false, "title": null}}
     }},
    {"mark": {"type": "line", "opacity": 0},
     "encoding": {
       "x": {"field": "R", "type": "quantitative", "scale": {"domain": [0, 1], "nice": false, "zero": false}, "axis": {"orient": "top", "values": [0.25, 0.75], "tickSize": -10, "labels": false, "title": null}},
       "y": {"field": "d", "type": "quantitative", "scale": {"domain": [250, 720], "nice": false, "zero": false}, "axis": {"orient": "right", "values": [350, 450, 550, 650], "tickSize": -10, "labels": false, "title": null}}
     }}
  ],
  "resolve": {"axis": {"x": "independent", "y": "independent"}}
},
{
  "width": 688, "height": 814,
  "title": {"text": "lysozyme"},
  "data": {"name": "lys"},
  "layer": [
    {"mark": {"type": "line", "strokeWidth": 3, "clip": true},
     "encoding": {
       "x": {"field": "R", "type": "quantitative", "scale": {"domain": [0, 1], "nice": false, "zero": false},
             "axis": {"orient": "bottom", "values": [0, 0.5, 1], "format": "~g", "tickSize": -20, "labelPadding": 28, "title": "R (nm)", "titleFont": "DejaVu Sans", "titleFontSize": 42, "titlePadding": 1}},
       "y": {"field": "d", "type": "quantitative", "scale": {"domain": [250, 720], "nice": false, "zero": false},
             "axis": {"orient": "left", "values": [300, 400, 500, 600, 700], "tickSize": -21, "labels": false, "title": null}},
       "color": {"field": "s", "type": "nominal",
                 "scale": {"domain": ["tip4p/2005s", "ctip3p", "otip3p"], "range": ["#000000", "#56B4E9", "#D55E00"]}, "legend": null}
     }},
    {"mark": {"type": "line", "opacity": 0},
     "encoding": {
       "x": {"field": "R", "type": "quantitative", "scale": {"domain": [0, 1], "nice": false, "zero": false}, "axis": {"orient": "bottom", "values": [0.25, 0.75], "tickSize": -10, "labels": false, "title": null}},
       "y": {"field": "d", "type": "quantitative", "scale": {"domain": [250, 720], "nice": false, "zero": false}, "axis": {"orient": "left", "values": [350, 450, 550, 650], "tickSize": -10, "labels": false, "title": null}}
     }},
    {"mark": {"type": "line", "opacity": 0},
     "encoding": {
       "x": {"field": "R", "type": "quantitative", "scale": {"domain": [0, 1], "nice": false, "zero": false}, "axis": {"orient": "top", "values": [0, 0.5, 1], "tickSize": -20, "labels": false, "title": null}},
       "y": {"field": "d", "type": "quantitative", "scale": {"domain": [250, 720], "nice": false, "zero": false}, "axis": {"orient": "right", "values": [300, 400, 500, 600, 700], "tickSize": -21, "labels": false, "title": null}}
     }},
    {"mark": {"type": "line", "opacity": 0},
     "encoding": {
       "x": {"field": "R", "type": "quantitative", "scale": {"domain": [0, 1], "nice": false, "zero": false}, "axis": {"orient": "top", "values": [0.25, 0.75], "tickSize": -10, "labels": false, "title": null}},
       "y": {"field": "d", "type": "quantitative", "scale": {"domain": [250, 720], "nice": false, "zero": false}, "axis": {"orient": "right", "values": [350, 450, 550, 650], "tickSize": -10, "labels": false, "title": null}}
     }}
  ],
  "resolve": {"axis": {"x": "independent", "y": "independent"}}
},
{
  "width": 688, "height": 814,
  "title": {"text": "RNaseA"},
  "data": {"name": "rna"},
  "layer": [
    {"mark": {"type": "line", "strokeWidth": 3, "clip": true},
     "encoding": {
       "x": {"field": "R", "type": "quantitative", "scale": {"domain": [0, 1], "nice": false, "zero": false},
             "axis": {"orient": "bottom", "values": [0, 0.5, 1], "format": "~g", "tickSize": -20, "labelPadding": 28, "title": "R (nm)", "titleFont": "DejaVu Sans", "titleFontSize": 30, "titlePadding": 4}},
       "y": {"field": "d", "type": "quantitative", "scale": {"domain": [250, 720], "nice": false, "zero": false},
             "axis": {"orient": "left", "values": [300, 400, 500, 600, 700], "tickSize": -21, "labels": false, "title": null}},
       "color": {"field": "s", "type": "nominal",
                 "scale": {"domain": ["tip4p/2005s", "ctip3p", "otip3p"], "range": ["#000000", "#56B4E9", "#D55E00"]}, "legend": null}
     }},
    {"mark": {"type": "line", "opacity": 0},
     "encoding": {
       "x": {"field": "R", "type": "quantitative", "scale": {"domain": [0, 1], "nice": false, "zero": false}, "axis": {"orient": "bottom", "values": [0.25, 0.75], "tickSize": -10, "labels": false, "title": null}},
       "y": {"field": "d", "type": "quantitative", "scale": {"domain": [250, 720], "nice": false, "zero": false}, "axis": {"orient": "left", "values": [350, 450, 550, 650], "tickSize": -10, "labels": false, "title": null}}
     }},
    {"mark": {"type": "line", "opacity": 0},
     "encoding": {
       "x": {"field": "R", "type": "quantitative", "scale": {"domain": [0, 1], "nice": false, "zero": false}, "axis": {"orient": "top", "values": [0, 0.5, 1], "tickSize": -20, "labels": false, "title": null}},
       "y": {"field": "d", "type": "quantitative", "scale": {"domain": [250, 720], "nice": false, "zero": false}, "axis": {"orient": "right", "values": [300, 400, 500, 600, 700], "tickSize": -21, "labels": false, "title": null}}
     }},
    {"mark": {"type": "line", "opacity": 0},
     "encoding": {
       "x": {"field": "R", "type": "quantitative", "scale": {"domain": [0, 1], "nice": false, "zero": false}, "axis": {"orient": "top", "values": [0.25, 0.75], "tickSize": -10, "labels": false, "title": null}},
       "y": {"field": "d", "type": "quantitative", "scale": {"domain": [250, 720], "nice": false, "zero": false}, "axis": {"orient": "right", "values": [350, 450, 550, 650], "tickSize": -10, "labels": false, "title": null}}
     }}
  ],
  "resolve": {"axis": {"x": "independent", "y": "independent"}}
},
{
  "width": 688, "height": 814,
  "title": {"text": "xylanase"},
  "data": {"name": "xyl"},
  "layer": [
    {"mark": {"type": "line", "strokeWidth": 3, "clip": true},
     "encoding": {
       "x": {"field": "R", "type": "quantitative", "scale": {"domain": [0, 1], "nice": false, "zero": false},
             "axis": {"orient": "bottom", "values": [0, 0.5], "format": "~g", "tickSize": -20, "labelPadding": 28, "title": "R (nm)", "titleFont": "DejaVu Sans", "titleFontSize": 42, "titlePadding": 1}},
       "y": {"field": "d", "type": "quantitative", "scale": {"domain": [250, 720], "nice": false, "zero": false},
             "axis": {"orient": "left", "values": [300, 400, 500, 600, 700], "tickSize": -21, "labels": false, "title": null}},
       "color": {"field": "s", "type": "nominal",
                 "scale": {"domain": ["tip4p/2005s", "ctip3p", "otip3p"], "range": ["#000000", "#56B4E9", "#D55E00"]}, "legend": null}
     }},
    {"mark": {"type": "line", "opacity": 0},
     "encoding": {
       "x": {"field": "R", "type": "quantitative", "scale": {"domain": [0, 1], "nice": false, "zero": false}, "axis": {"orient": "bottom", "values": [0.25, 0.75], "tickSize": -10, "labels": false, "title": null}},
       "y": {"field": "d", "type": "quantitative", "scale": {"domain": [250, 720], "nice": false, "zero": false}, "axis": {"orient": "left", "values": [350, 450, 550, 650], "tickSize": -10, "labels": false, "title": null}}
     }},
    {"mark": {"type": "line", "opacity": 0},
     "encoding": {
       "x": {"field": "R", "type": "quantitative", "scale": {"domain": [0, 1], "nice": false, "zero": false}, "axis": {"orient": "top", "values": [0, 0.5, 1], "tickSize": -20, "labels": false, "title": null}},
       "y": {"field": "d", "type": "quantitative", "scale": {"domain": [250, 720], "nice": false, "zero": false}, "axis": {"orient": "right", "values": [300, 400, 500, 600, 700], "tickSize": -21, "labels": false, "title": null}}
     }},
    {"mark": {"type": "line", "opacity": 0},
     "encoding": {
       "x": {"field": "R", "type": "quantitative", "scale": {"domain": [0, 1], "nice": false, "zero": false}, "axis": {"orient": "top", "values": [0.25, 0.75], "tickSize": -10, "labels": false, "title": null}},
       "y": {"field": "d", "type": "quantitative", "scale": {"domain": [250, 720], "nice": false, "zero": false}, "axis": {"orient": "right", "values": [350, 450, 550, 650], "tickSize": -10, "labels": false, "title": null}}
     }}
  ],
  "resolve": {"axis": {"x": "independent", "y": "independent"}}
}
]
}
